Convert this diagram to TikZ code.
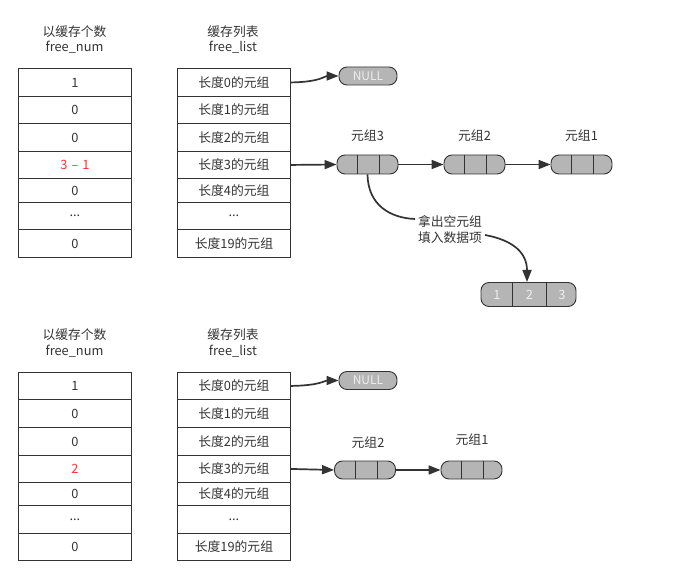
\documentclass[tikz,border=0pt]{standalone}
\usepackage{fontspec}
\setmainfont{Noto Sans CJK SC}
\usetikzlibrary{arrows.meta,calc}
\definecolor{ink}{HTML}{333333}
\definecolor{tgray}{HTML}{B5B5B5}
\definecolor{tlight}{HTML}{EEEEEE}
\definecolor{hot}{HTML}{FF3333}
\newcommand\myellip{...}
\newcommand\mydiff{3\hspace{4pt}–\hspace{4pt}1}
\begin{document}
\begin{tikzpicture}[x=1pt,y=-1pt,font=\fontsize{12.8}{15.5}\selectfont,
  cell/.style={draw=ink,line width=0.9pt,minimum width=113pt,inner sep=0pt,anchor=north west,text=ink},
  tuple/.style={draw=ink,fill=tgray,rounded corners=8pt,inner sep=0pt,line width=0.9pt},
  ttl/.style={text=ink,align=center},
  link/.style={draw=ink,line width=1.7pt,-{Triangle[length=12pt,width=9pt]}},
  wire/.style={draw=ink,line width=1.7pt}]
\useasboundingbox (0,0) rectangle (681,588);
% ---------- top ----------
\node[ttl] (hl) at (74.5,39.5) {以缓存个数\\free\_num};
\node[ttl] (hr) at (233,39.5) {缓存列表\\free\_list};
\foreach \i/\t/\h/\a/\c/\b in {0/68/28/1/ink/长度0的元组,1/96/27/0/ink/长度1的元组,2/123/28/0/ink/长度2的元组,3/151/27/\mydiff/hot/长度3的元组,4/178/24/0/ink/长度4的元组,5/202/27/\myellip/ink/\myellip,6/229/28/0/ink/长度19的元组}{
  \node[cell,minimum height=\h pt,text=\c] (L\i) at (18,\t) {\a};
  \node[cell,minimum height=\h pt] (R\i) at (177,\t) {\b};
}
\node[tuple,minimum width=58pt,minimum height=18pt,text=tlight,font=\fontsize{12}{14}\selectfont] (null) at (368,76) {NULL};
\foreach \n/\x/\lab in {t3/367.5/元组3,t2/474.5/元组2,t1/581.5/元组1}{
  \node[tuple,minimum width=61pt,minimum height=19pt] (\n) at (\x,164.5) {};
  \draw[ink,line width=0.9pt] ($(\n.north west)!0.34!(\n.north east)$) -- ($(\n.south west)!0.34!(\n.south east)$);
  \draw[ink,line width=0.9pt] ($(\n.north west)!0.70!(\n.north east)$) -- ($(\n.south west)!0.70!(\n.south east)$);
  \node[text=ink] (lab\n) at (\x,136) {\lab};
}
\node[tuple,minimum width=95pt,minimum height=24pt] (res) at (528.5,294.5) {};
\draw[ink,line width=0.9pt] ($(res.north west)!0.33!(res.north east)$) -- ($(res.south west)!0.33!(res.south east)$);
\draw[ink,line width=0.9pt] ($(res.north west)!0.69!(res.north east)$) -- ($(res.south west)!0.69!(res.south east)$);
\node[text=tlight] (r1) at (497,294.5) {1};
\node[text=tlight] (r2) at (529.5,294.5) {2};
\node[text=tlight] (r3) at (562,294.5) {3};
\node[text=ink,align=left] (take) at (450,229.5) {拿出空元组\\填入数据项};
\coordinate (c1) at (415,219);
\coordinate (c2) at (485,235);
\coordinate (rtop) at (527,282);
\draw[link] (R0.east) .. controls (320,82) and (325,76) .. (null.west);
\draw[link] (R3.east) -- (t3.west);
\draw[link] (t3.east) -- (t2.west);
\draw[link] (t2.east) -- (t1.west);
\draw[wire] (t3.south) .. controls (368,205) and (390,218) .. (c1);
\draw[link] (c2) .. controls (512,240) and (527,252) .. (rtop);
% ---------- bottom ----------
\node[ttl] (bhl) at (74.5,343) {以缓存个数\\free\_num};
\node[ttl] (bhr) at (233,343) {缓存列表\\free\_list};
\foreach \i/\t/\h/\a/\c/\b in {0/372/27/1/ink/长度0的元组,1/399/28/0/ink/长度1的元组,2/427/28/0/ink/长度2的元组,3/455/27/2/hot/长度3的元组,4/482/23/0/ink/长度4的元组,5/505/28/\myellip/ink/\myellip,6/533/27/0/ink/长度19的元组}{
  \node[cell,minimum height=\h pt,text=\c] (BL\i) at (18,\t) {\a};
  \node[cell,minimum height=\h pt] (BR\i) at (177,\t) {\b};
}
\node[tuple,minimum width=58pt,minimum height=18pt,text=tlight,font=\fontsize{12}{14}\selectfont] (bnull) at (368,380.5) {NULL};
\foreach \n/\x/\lx/\ly/\lab in {bt2/365/368/443/元组2,bt1/471.5/472/440/元组1}{
  \node[tuple,minimum width=61pt,minimum height=18pt] (\n) at (\x,470) {};
  \draw[ink,line width=0.9pt] ($(\n.north west)!0.34!(\n.north east)$) -- ($(\n.south west)!0.34!(\n.south east)$);
  \draw[ink,line width=0.9pt] ($(\n.north west)!0.70!(\n.north east)$) -- ($(\n.south west)!0.70!(\n.south east)$);
  \node[text=ink] (lab\n) at (\lx,\ly) {\lab};
}
\draw[link] (BR0.east) .. controls (320,385.5) and (325,380.5) .. (bnull.west);
\draw[link] (BR3.east) -- (bt2.west);
\draw[link] (bt2.east) -- (bt1.west);
\end{tikzpicture}
\end{document}
